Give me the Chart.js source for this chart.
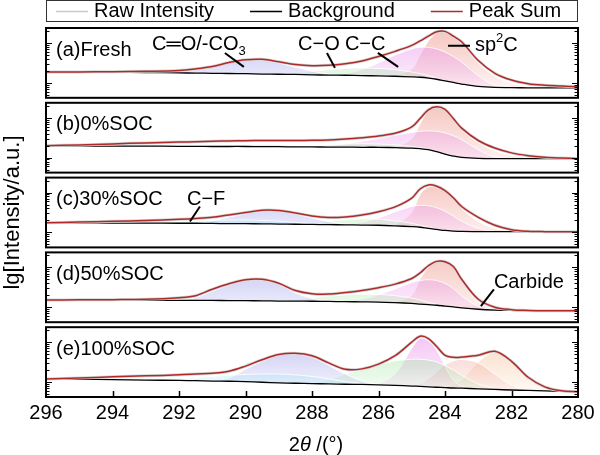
<!DOCTYPE html>
<html><head><meta charset="utf-8">
<script src="https://cdn.jsdelivr.net/npm/chart.js@4.4.0/dist/chart.umd.min.js"></script>
<style>html,body{margin:0;padding:0;background:#fff}canvas{display:block}</style>
</head><body>
<canvas id="c" width="600" height="455"></canvas>
<script>
const _ = null;
// binding energy grid (x values, shared by all curves)
const eV = [296,295,294,293,292,291.5,291,290.5,290,289.5,289,288.5,288,287.5,287,286.5,286,285.5,285,284.75,284.5,284.25,284,283.75,283.5,283,282.5,282,281.5,281,280.5,280];
const xTicks = [296,294,292,290,288,286,284,282,280];
const panelLabels = ['(a)Fresh','(b)0%SOC','(c)30%SOC','(d)50%SOC','(e)100%SOC'];
const seriesNames = ['Raw Intensity','Background','Peak Sum'];

// values are lg[Intensity]
// (a) Fresh
const a_raw = [3.275,3.275,3.28,3.29,3.31,3.35,3.41,3.51,3.58,3.59,3.53,3.46,3.43,3.44,3.48,3.55,3.66,3.79,3.94,4.05,4.17,4.28,4.29,4.17,4.03,3.56,3.24,3.07,2.98,2.94,2.92,2.90];
const a_sum = [3.275,3.275,3.28,3.29,3.31,3.35,3.41,3.51,3.58,3.59,3.53,3.46,3.43,3.44,3.48,3.55,3.66,3.79,3.94,4.05,4.17,4.28,4.29,4.17,4.03,3.56,3.24,3.07,2.98,2.94,2.92,2.90];
const a_bg  = [3.275,3.27,3.265,3.26,3.25,3.245,3.24,3.235,3.23,3.22,3.215,3.21,3.20,3.195,3.19,3.18,3.175,3.165,3.15,3.14,3.12,3.09,3.05,3.01,2.97,2.91,2.885,2.88,2.875,2.875,2.875,2.875];
const a_CO3 = [_,_,_,_,3.25,3.33,3.40,3.50,3.57,3.575,3.50,3.39,3.29,3.22,3.19,_,_,_,_,_,_,_,_,_,_,_,_,_,_,_,_,_];
const a_CO  = [_,_,_,_,_,_,_,_,_,_,3.215,3.24,3.29,3.33,3.36,3.37,3.36,3.33,3.27,3.23,3.18,3.12,3.05,_,_,_,_,_,_,_,_,_];
const a_CC  = [_,_,_,_,_,_,_,_,_,_,_,_,_,3.195,3.23,3.33,3.50,3.70,3.85,3.89,3.89,3.85,3.77,3.66,3.52,3.18,2.93,2.88,_,_,_,_];
const a_sp2 = [_,_,_,_,_,_,_,_,_,_,_,_,_,_,_,_,_,3.17,3.35,3.70,4.05,4.25,4.27,4.14,3.99,3.50,3.17,2.99,2.92,2.89,2.875,_];
// (b) 0%SOC
const b_raw = [3.30,3.32,3.345,3.37,3.39,3.40,3.41,3.42,3.425,3.43,3.43,3.43,3.435,3.445,3.465,3.50,3.545,3.61,3.77,3.98,4.20,4.275,4.21,3.98,3.74,3.43,3.24,3.12,3.05,3.01,2.99,2.975];
const b_sum = [3.30,3.32,3.345,3.37,3.39,3.40,3.41,3.42,3.425,3.43,3.43,3.43,3.435,3.445,3.465,3.50,3.545,3.61,3.77,3.98,4.20,4.275,4.21,3.98,3.74,3.43,3.24,3.12,3.05,3.01,2.99,2.975];
const b_bg  = [3.30,3.295,3.29,3.29,3.285,3.285,3.28,3.28,3.28,3.275,3.275,3.27,3.27,3.265,3.265,3.26,3.26,3.25,3.24,3.225,3.20,3.15,3.09,3.04,3.005,2.98,2.975,2.975,2.975,2.975,2.975,2.975];
const b_CO3 = [_,_,_,_,3.285,3.29,3.30,3.31,3.32,3.325,3.32,3.30,3.28,3.265,_,_,_,_,_,_,_,_,_,_,_,_,_,_,_,_,_,_];
const b_CO  = [_,_,_,_,_,_,_,_,_,_,3.275,3.285,3.30,3.32,3.34,3.35,3.34,3.32,3.28,3.25,3.21,3.15,_,_,_,_,_,_,_,_,_,_];
const b_CC  = [_,_,_,_,_,_,_,_,_,_,_,_,3.27,3.29,3.34,3.41,3.48,3.56,3.63,3.66,3.67,3.66,3.62,3.55,3.45,3.20,3.02,2.975,_,_,_,_];
const b_sp2 = [_,_,_,_,_,_,_,_,_,_,_,_,_,_,_,_,_,3.26,3.47,3.85,4.17,4.26,4.19,3.95,3.70,3.38,3.17,3.06,3.01,2.985,2.975,_];
// (c) 30%SOC
const c_raw = [3.24,3.26,3.28,3.30,3.33,3.35,3.38,3.44,3.50,3.555,3.55,3.49,3.41,3.375,3.39,3.44,3.52,3.64,3.86,4.09,4.19,4.16,4.05,3.87,3.65,3.38,3.18,3.07,3.03,3.02,3.02,3.02];
const c_sum = [3.24,3.26,3.28,3.30,3.33,3.35,3.38,3.44,3.50,3.555,3.55,3.49,3.41,3.375,3.39,3.44,3.52,3.64,3.86,4.09,4.19,4.16,4.05,3.87,3.65,3.38,3.18,3.07,3.03,3.02,3.02,3.02];
const c_bg  = [3.24,3.24,3.235,3.235,3.23,3.23,3.225,3.22,3.22,3.215,3.21,3.205,3.20,3.195,3.19,3.185,3.18,3.165,3.145,3.13,3.10,3.075,3.05,3.035,3.025,3.02,3.02,3.02,3.02,3.02,3.02,3.02];
const c_CF  = [_,_,_,3.235,3.26,3.28,3.30,3.31,3.31,3.30,3.28,3.25,3.22,3.195,_,_,_,_,_,_,_,_,_,_,_,_,_,_,_,_,_,_];
const c_CO3 = [_,_,_,_,_,3.235,3.29,3.38,3.47,3.535,3.53,3.46,3.36,3.27,3.21,3.19,_,_,_,_,_,_,_,_,_,_,_,_,_,_,_,_];
const c_CO  = [_,_,_,_,_,_,_,_,_,_,_,3.205,3.23,3.28,3.32,3.34,3.33,3.29,3.23,3.18,3.13,3.08,_,_,_,_,_,_,_,_,_,_];
const c_CC  = [_,_,_,_,_,_,_,_,_,_,_,_,_,_,3.19,3.25,3.36,3.52,3.65,3.68,3.67,3.62,3.53,3.41,3.28,3.10,3.03,3.02,_,_,_,_];
const c_sp2 = [_,_,_,_,_,_,_,_,_,_,_,_,_,_,_,_,_,3.18,3.50,3.95,4.14,4.13,4.02,3.84,3.60,3.28,3.10,3.04,3.02,_,_,_];
const c_carb= [_,_,_,_,_,_,_,_,_,_,_,_,_,_,_,_,_,_,_,_,_,_,_,3.035,3.05,3.09,3.08,3.04,3.02,_,_,_];
// (d) 50%SOC
const d_raw = [3.18,3.185,3.19,3.20,3.24,3.29,3.45,3.59,3.69,3.70,3.60,3.42,3.34,3.33,3.37,3.42,3.49,3.58,3.72,3.86,4.04,4.15,4.14,4.02,3.70,3.20,3.00,2.94,2.92,2.91,2.91,2.91];
const d_sum = [3.18,3.185,3.19,3.20,3.24,3.29,3.45,3.59,3.69,3.70,3.60,3.42,3.34,3.33,3.37,3.42,3.49,3.58,3.72,3.86,4.04,4.15,4.14,4.02,3.70,3.20,3.00,2.94,2.92,2.91,2.91,2.91];
const d_bg  = [3.18,3.178,3.176,3.174,3.172,3.17,3.17,3.168,3.165,3.16,3.155,3.152,3.15,3.145,3.14,3.135,3.13,3.115,3.095,3.08,3.065,3.05,3.03,3.01,2.985,2.95,2.93,2.92,2.915,2.91,2.91,2.91];
const d_CO3 = [_,_,_,_,3.175,3.24,3.40,3.56,3.67,3.68,3.57,3.36,3.22,3.16,3.145,_,_,_,_,_,_,_,_,_,_,_,_,_,_,_,_,_];
const d_CO  = [_,_,_,_,_,_,_,_,_,_,3.16,3.19,3.24,3.28,3.31,3.325,3.32,3.29,3.23,3.18,3.12,3.08,3.035,_,_,_,_,_,_,_,_,_];
const d_CC  = [_,_,_,_,_,_,_,_,_,_,_,_,_,_,3.15,3.20,3.31,3.46,3.62,3.67,3.69,3.67,3.60,3.47,3.28,3.02,2.94,_,_,_,_,_];
const d_sp2 = [_,_,_,_,_,_,_,_,_,_,_,_,_,_,_,_,_,3.12,3.30,3.70,4.00,4.14,4.13,4.00,3.66,3.13,2.96,2.925,_,_,_,_];
const d_carb= [_,_,_,_,_,_,_,_,_,_,_,_,_,_,_,_,_,_,_,_,_,_,3.035,3.03,3.03,3.06,3.03,2.95,2.92,_,_,_];
// (e) 100%SOC
const e_raw = [3.075,3.10,3.13,3.155,3.18,3.20,3.22,3.27,3.40,3.56,3.69,3.72,3.66,3.48,3.32,3.33,3.45,3.66,4.00,4.15,4.09,3.89,3.67,3.62,3.625,3.67,3.77,3.52,3.12,2.88,2.78,2.755];
const e_sum = [3.075,3.10,3.13,3.155,3.18,3.20,3.22,3.27,3.40,3.56,3.69,3.72,3.66,3.48,3.32,3.33,3.45,3.66,4.00,4.15,4.09,3.89,3.67,3.62,3.625,3.67,3.77,3.52,3.12,2.88,2.78,2.755];
const e_bg  = [3.075,3.07,3.06,3.05,3.04,3.035,3.025,3.02,3.01,2.995,2.98,2.97,2.96,2.955,2.945,2.94,2.93,2.915,2.90,2.89,2.88,2.87,2.86,2.85,2.845,2.83,2.815,2.80,2.79,2.78,2.765,2.75];
const e_CF  = [_,_,_,3.05,3.08,3.11,3.14,3.17,3.19,3.20,3.20,3.18,3.14,3.08,3.01,2.96,2.935,_,_,_,_,_,_,_,_,_,_,_,_,_,_,_];
const e_CO3 = [_,_,_,_,_,_,3.03,3.10,3.32,3.52,3.67,3.70,3.62,3.42,3.20,3.03,2.94,_,_,_,_,_,_,_,_,_,_,_,_,_,_,_];
const e_CO  = [_,_,_,_,_,_,_,_,_,_,_,_,2.97,3.05,3.20,3.32,3.44,3.53,3.57,3.57,3.55,3.50,3.41,3.30,3.17,2.95,2.84,_,_,_,_,_];
const e_CC  = [_,_,_,_,_,_,_,_,_,_,_,_,_,_,_,_,2.94,3.20,3.85,4.10,4.03,3.80,3.40,3.05,2.90,2.835,_,_,_,_,_,_];
const e_sp2 = [_,_,_,_,_,_,_,_,_,_,_,_,_,_,_,_,_,_,2.91,2.95,3.08,3.25,3.43,3.53,3.565,3.48,3.20,2.92,2.80,_,_,_];
const e_carb= [_,_,_,_,_,_,_,_,_,_,_,_,_,_,_,_,_,_,_,_,_,_,2.87,2.95,3.05,3.50,3.74,3.48,3.08,2.86,2.77,_];

const compColors = {CF:'130,220,240', CO3:'150,150,235', CO:'150,225,150', CC:'235,150,235', sp2:'240,160,150', carb:'245,185,140'};

const panels = [
  {raw:a_raw, bg:a_bg, sum:a_sum, comps:[[a_CO3,'CO3'],[a_CO,'CO'],[a_CC,'CC'],[a_sp2,'sp2']]},
  {raw:b_raw, bg:b_bg, sum:b_sum, comps:[[b_CO3,'CO3'],[b_CO,'CO'],[b_CC,'CC'],[b_sp2,'sp2']]},
  {raw:c_raw, bg:c_bg, sum:c_sum, comps:[[c_CF,'CF'],[c_CO3,'CO3'],[c_CO,'CO'],[c_CC,'CC'],[c_sp2,'sp2'],[c_carb,'carb']]},
  {raw:d_raw, bg:d_bg, sum:d_sum, comps:[[d_CO3,'CO3'],[d_CO,'CO'],[d_CC,'CC'],[d_sp2,'sp2'],[d_carb,'carb']]},
  {raw:e_raw, bg:e_bg, sum:e_sum, comps:[[e_CF,'CF'],[e_CO3,'CO3'],[e_CO,'CO'],[e_CC,'CC'],[e_sp2,'sp2'],[e_carb,'carb']]}
];

// annotations: panel, x (eV), y (lg)
const notes = [
  {p:0, x:292.81, y:3.95, parts:[{t:'C\u2550O/-CO'},{t:'3',sub:true}], line:[290.62,3.75,290.05,3.40]},
  {p:0, x:288.42, y:3.95, parts:[{t:'C\u2212O'}], line:[287.55,3.75,287.31,3.375]},
  {p:0, x:287.01, y:3.95, parts:[{t:'C\u2212C'}], line:[286.02,3.75,285.41,3.40]},
  {p:0, x:283.10, y:3.93, parts:[{t:'sp'},{t:'2',sup:true},{t:'C'}], line:[283.91,3.93,283.25,3.93]},
  {p:2, x:291.76, y:3.825, parts:[{t:'C\u2212F'}], line:[291.37,3.65,291.67,3.275]},
  {p:3, x:282.53, y:3.625, parts:[{t:'Carbide'}], line:[282.53,3.45,282.92,3.03]}
];

const LG_MIN = 2.625, LG_MAX = 4.375, PH = LG_MAX - LG_MIN, GAP = 0.125, NP = panels.length;
const base = p => (NP - 1 - p) * (PH + GAP);
const toV = (p, lg) => base(p) + lg - LG_MIN;
const FONT = '"Liberation Sans", Arial, "DejaVu Sans", sans-serif';

function grad(chart, p, c) {
  const {ctx, chartArea, scales} = chart;
  if (!chartArea || !scales || !scales.y) return 'rgba(' + c + ',0.35)';
  const top = scales.y.getPixelForValue(toV(p, LG_MAX));
  const bot = scales.y.getPixelForValue(toV(p, LG_MIN));
  if (!isFinite(top) || !isFinite(bot) || top === bot) return 'rgba(' + c + ',0.35)';
  const g = ctx.createLinearGradient(0, top, 0, bot);
  g.addColorStop(0, 'rgba(' + c + ',0.62)');
  g.addColorStop(1, 'rgba(' + c + ',0.04)');
  return g;
}

const datasets = [];
panels.forEach((P, p) => {
  const pts = arr => eV.map((x, i) => ({x: x, y: arr[i] == null ? null : toV(p, arr[i])}));
  const bgIndex = datasets.length;
  datasets.push({label: seriesNames[1], data: pts(P.bg), borderColor: '#000', borderWidth: 1.3, fill: false, order: 2, tension: 0.35});
  P.comps.forEach(([arr, key]) => {
    const c = compColors[key];
    datasets.push({label: key, data: pts(arr), borderColor: 'rgba(255,255,255,0.85)', borderWidth: 1,
      fill: {target: bgIndex}, order: 10, tension: 0.35, backgroundColor: ctx => grad(ctx.chart, p, c)});
  });
  datasets.push({label: seriesNames[0], data: pts(P.raw), borderColor: '#d6d6d6', borderWidth: 3, fill: false, order: 1, tension: 0.35});
  datasets.push({label: seriesNames[2], data: pts(P.sum), borderColor: '#b02a2a', borderWidth: 1.5, fill: false, order: 0, tension: 0.35});
});

const legendItems = [
  {text: seriesNames[0], color: '#c8c8c8', w: 1.5},
  {text: seriesNames[1], color: '#000', w: 1.5},
  {text: seriesNames[2], color: '#b02a2a', w: 1.5}
];

const decor = {
  id: 'decor',
  afterDatasetsDraw(chart) {
    const {ctx, chartArea: A, scales: {x, y}} = chart;
    ctx.save();
    for (let p = 0; p < NP; p++) {
      const top = y.getPixelForValue(toV(p, LG_MAX));
      const bot = y.getPixelForValue(toV(p, LG_MIN));
      ctx.strokeStyle = '#000';
      ctx.lineWidth = 1.1;
      ctx.beginPath();
      for (let n = 2; n <= 4; n++) {
        for (let k = 1; k <= 9; k++) {
          const lg = n + Math.log10(k);
          if (lg <= LG_MIN + 0.01 || lg >= LG_MAX - 0.01) continue;
          const py = Math.round(y.getPixelForValue(toV(p, lg))) + 0.5;
          const len = k === 1 ? 6 : 3.5;
          ctx.moveTo(A.left, py); ctx.lineTo(A.left + len, py);
          ctx.moveTo(A.right, py); ctx.lineTo(A.right - len, py);
        }
      }
      ctx.stroke();
      ctx.lineWidth = 2;
      ctx.strokeRect(A.left, top, A.right - A.left, bot - top);
      ctx.fillStyle = '#000';
      ctx.font = '20px ' + FONT;
      ctx.textAlign = 'left';
      ctx.textBaseline = 'middle';
      ctx.fillText(panelLabels[p], A.left + 10, top + 22);
    }
    ctx.lineWidth = 1.5;
    ctx.beginPath();
    xTicks.forEach(v => {
      if (v === 296 || v === 280) return;
      const px = Math.round(x.getPixelForValue(v)) + 0.5;
      ctx.moveTo(px, A.bottom); ctx.lineTo(px, A.bottom - 6);
    });
    ctx.stroke();
    notes.forEach(n => {
      const L = n.line;
      ctx.lineWidth = 2;
      ctx.beginPath();
      ctx.moveTo(x.getPixelForValue(L[0]), y.getPixelForValue(toV(n.p, L[1])));
      ctx.lineTo(x.getPixelForValue(L[2]), y.getPixelForValue(toV(n.p, L[3])));
      ctx.stroke();
      let cx = x.getPixelForValue(n.x);
      const cy = y.getPixelForValue(toV(n.p, n.y));
      n.parts.forEach(pt => {
        let dy = 0;
        if (pt.sub) { ctx.font = '13px ' + FONT; dy = 6; }
        else if (pt.sup) { ctx.font = '13px ' + FONT; dy = -7; }
        else ctx.font = '20px ' + FONT;
        ctx.fillText(pt.t, cx, cy + dy);
        cx += ctx.measureText(pt.t).width;
      });
    });
    ctx.restore();
  },
  afterDraw(chart) {
    const {ctx, chartArea: A} = chart;
    ctx.save();
    ctx.strokeStyle = '#333';
    ctx.lineWidth = 1;
    ctx.strokeRect(A.left + 0.5, 0.5, A.right - A.left - 1, 21);
    ctx.font = '20px ' + FONT;
    ctx.textBaseline = 'middle';
    ctx.textAlign = 'left';
    let lx = A.left + 10;
    legendItems.forEach(it => {
      ctx.strokeStyle = it.color;
      ctx.lineWidth = it.w;
      ctx.beginPath(); ctx.moveTo(lx, 11.5); ctx.lineTo(lx + 32, 11.5); ctx.stroke();
      ctx.fillStyle = '#000';
      ctx.fillText(it.text, lx + 38, 11.5);
      lx += 38 + ctx.measureText(it.text).width + 36;
    });
    const parts = [{t:'2', f:'20px '}, {t:'\u03b8', f:'italic 20px '}, {t:' /(\u00b0)', f:'20px '}];
    let tw = 0;
    parts.forEach(p => { ctx.font = p.f + FONT; p.w = ctx.measureText(p.t).width; tw += p.w; });
    let tx = (A.left + A.right) / 2 + 4 - tw / 2;
    ctx.fillStyle = '#000';
    parts.forEach(p => { ctx.font = p.f + FONT; ctx.fillText(p.t, tx, 445); tx += p.w; });
    ctx.restore();
  }
};

new Chart(document.getElementById('c'), {
  type: 'line',
  data: {datasets: datasets},
  options: {
    responsive: false, animation: false, events: [], devicePixelRatio: 1,
    layout: {padding: {top: 28, right: 22, left: 0, bottom: 0}},
    plugins: {legend: {display: false}, tooltip: {enabled: false}},
    elements: {point: {radius: 0}},
    scales: {
      x: {type: 'linear', min: 280, max: 296, reverse: true,
        afterFit: s => { s.height = 58; },
        afterBuildTicks: s => { s.ticks = xTicks.map(v => ({value: v})); },
        grid: {display: false, drawTicks: false}, border: {display: false},
        ticks: {color: '#000', font: {family: FONT, size: 20}, padding: 4, maxRotation: 0, autoSkip: false, callback: v => String(v)}},
      y: {type: 'linear', min: 0, max: NP * PH + (NP - 1) * GAP,
        afterFit: s => { s.width = 46; },
        grid: {display: false, drawTicks: false}, border: {display: false},
        ticks: {display: false},
        title: {display: true, text: 'lg[Intensity/a.u.]', color: '#000', font: {family: FONT, size: 22}, padding: {top: 0, bottom: 0}}}
    }
  },
  plugins: [decor]
});
</script>
</body></html>
